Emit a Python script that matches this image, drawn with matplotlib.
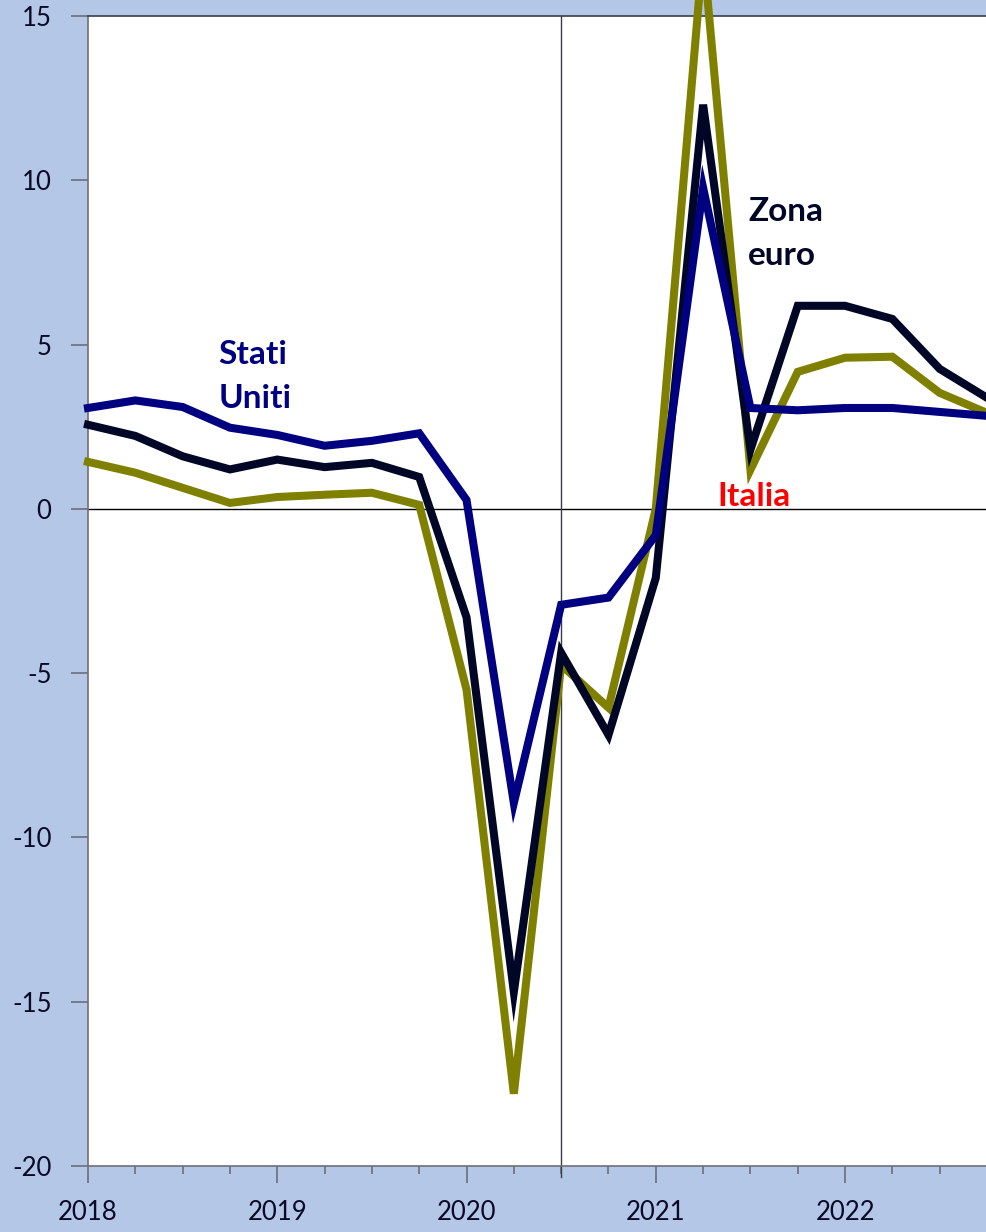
import matplotlib
matplotlib.use("Agg")
import matplotlib.pyplot as plt
from matplotlib.ticker import MultipleLocator

quarters = [2018 + i * 0.25 for i in range(20)]
stati_uniti = [3.07, 3.3, 3.1, 2.47, 2.25, 1.92, 2.07, 2.3, 0.27, -8.95,
               -2.92, -2.7, -0.8, 9.77, 3.07, 3.0, 3.07, 3.07, 2.95, 2.83]
zona_euro = [2.56, 2.22, 1.6, 1.2, 1.5, 1.27, 1.4, 0.97, -3.3, -14.7,
             -4.38, -6.88, -2.1, 12.3, 1.8, 6.18, 6.18, 5.78, 4.26, 3.38]
italia = [1.43, 1.1, 0.64, 0.18, 0.36, 0.43, 0.49, 0.12, -5.5, -17.8,
          -4.75, -6.05, 0.0, 17.0, 1.19, 4.17, 4.6, 4.63, 3.53, 2.92]
year_ticks = [2018, 2019, 2020, 2021, 2022]
year_labels = ["2018", "2019", "2020", "2021", "2022"]
y_ticks = [-20, -15, -10, -5, 0, 5, 10, 15]

BG = "#b4c7e7"
C_US = "#000080"
C_EZ = "#000626"
C_IT = "#808000"
TXT = "#0a0a28"
GRAY = "#6d6f7a"

plt.rcParams["font.family"] = ["Lato", "DejaVu Sans"]

fig = plt.figure(figsize=(9.87, 12.32), dpi=100, facecolor=BG)
ax = fig.add_axes([88 / 987, 1 - 1166 / 1232, 899 / 987, 1150 / 1232])
ax.set_facecolor("white")

ax.set_xlim(2018, 2022.75)
ax.set_ylim(-20, 15)

ax.axhline(0, color="black", lw=1.0, zorder=1)
ax.axvline(2020.5, color="#3a3c4a", lw=1.0, zorder=1)
ax.plot([2020.5, 2020.5], [-20, -20.33], color="#3a3c4a", lw=1.0, clip_on=False)

lw = 5.8
ax.plot(quarters, italia, color=C_IT, lw=lw, solid_joinstyle="miter", clip_on=False, zorder=3)
ax.plot(quarters, zona_euro, color=C_EZ, lw=lw, solid_joinstyle="miter", clip_on=False, zorder=4)
ax.plot(quarters, stati_uniti, color=C_US, lw=lw, solid_joinstyle="miter", clip_on=False, zorder=5)

for s in ax.spines.values():
    s.set_color(GRAY)
    s.set_linewidth(1.2)
ax.spines["top"].set_color("#3a3c4a")

ax.set_xticks(year_ticks)
ax.set_xticklabels(year_labels)
ax.xaxis.set_minor_locator(MultipleLocator(0.25))
ax.set_yticks(y_ticks)
ax.set_yticklabels([str(v) for v in y_ticks])
ax.tick_params(axis="x", which="major", direction="out", length=12.2, width=1.2,
               color=GRAY, labelsize=18.5, labelcolor=TXT, pad=12)
ax.tick_params(axis="x", which="minor", direction="out", length=6, width=1.2, color=GRAY)
ax.tick_params(axis="y", which="major", direction="out", length=12.2, width=1.2,
               color=GRAY, labelsize=18.5, labelcolor=TXT, pad=14)

fs = 24
ax.text(2018.69, 4.41, "Stati", color=C_US, fontsize=fs, fontweight="bold", ha="left", va="baseline")
ax.text(2018.69, 3.07, "Uniti", color=C_US, fontsize=fs, fontweight="bold", ha="left", va="baseline")
ax.text(2021.487, 8.76, "Zona", color=C_EZ, fontsize=fs, fontweight="bold", ha="left", va="baseline")
ax.text(2021.487, 7.43, "euro", color=C_EZ, fontsize=fs, fontweight="bold", ha="left", va="baseline")
ax.text(2021.328, 0.09, "Italia", color="#ff0000", fontsize=fs, fontweight="bold", ha="left", va="baseline")

fig.savefig("out.png", dpi=100, facecolor=BG)
